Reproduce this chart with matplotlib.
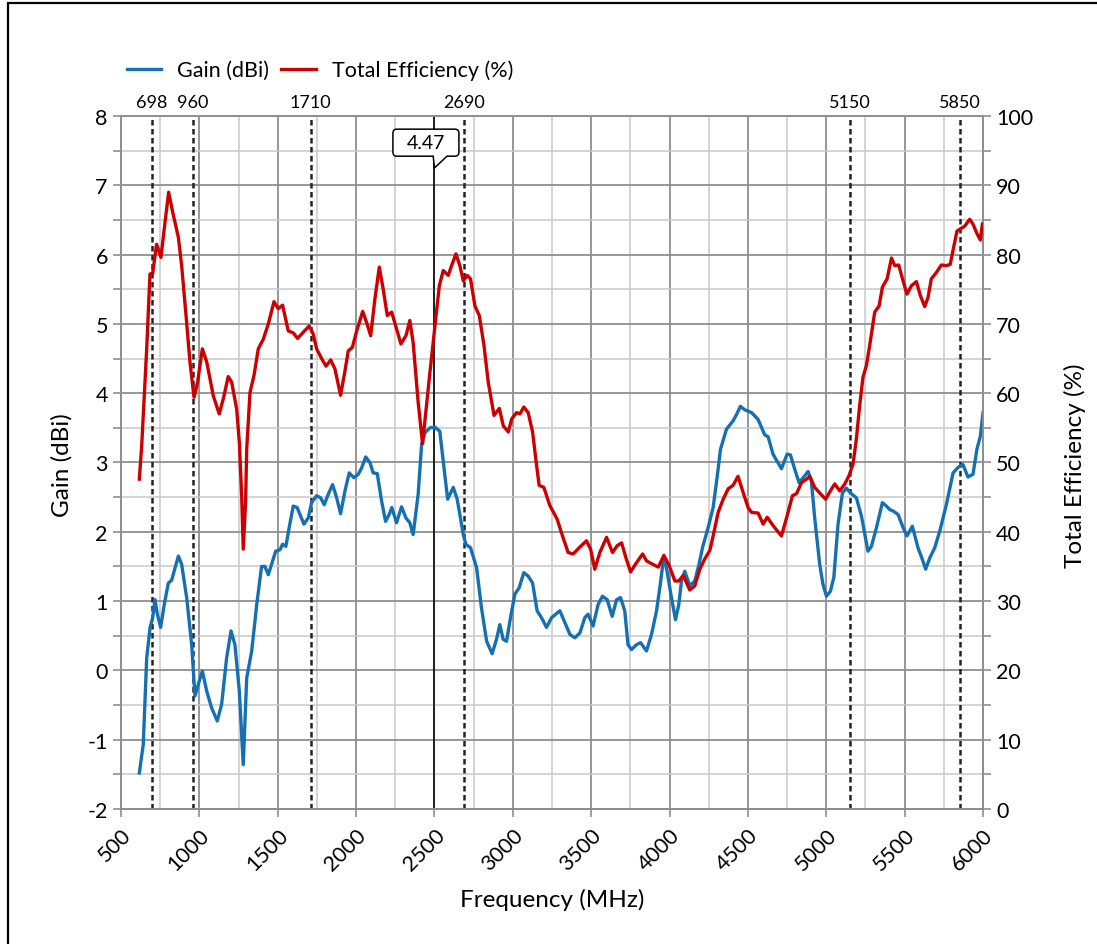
import matplotlib
matplotlib.use("Agg")
import matplotlib.pyplot as plt
from matplotlib.path import Path
from matplotlib.patches import PathPatch, Rectangle
from matplotlib.ticker import MultipleLocator

plt.rcParams['font.family'] = ['Lato', 'DejaVu Sans']
plt.rcParams['axes.unicode_minus'] = False

# gain curve (MHz, dBi)
gain_freq = [617, 642, 664, 685, 702, 717, 732, 753, 776, 802, 823, 866, 887, 919, 951, 972, 993, 1019,
             1047, 1078, 1114, 1142, 1174, 1202, 1227, 1255, 1280, 1302, 1334, 1366, 1397, 1418, 1440,
             1461, 1487, 1514, 1531, 1552, 1573, 1599, 1624, 1667, 1695, 1716, 1748, 1774, 1797, 1822,
             1850, 1876, 1901, 1929, 1956, 1986, 2014, 2035, 2061, 2088, 2109, 2135, 2163, 2188, 2211,
             2228, 2258, 2290, 2318, 2343, 2364, 2396, 2418, 2439, 2471, 2503, 2534, 2556, 2584, 2620,
             2645, 2684, 2700, 2730, 2769, 2800, 2833, 2868, 2896, 2917, 2938, 2960, 2985, 3013, 3040,
             3070, 3098, 3126, 3155, 3183, 3215, 3247, 3300, 3332, 3364, 3396, 3428, 3459, 3480, 3512,
             3544, 3572, 3602, 3634, 3662, 3687, 3714, 3735, 3757, 3789, 3815, 3853, 3885, 3917, 3942,
             3963, 3984, 4012, 4038, 4059, 4076, 4097, 4129, 4161, 4188, 4210, 4246, 4278, 4303, 4325,
             4363, 4405, 4427, 4452, 4480, 4523, 4565, 4607, 4629, 4660, 4714, 4750, 4771, 4799, 4826,
             4856, 4884, 4905, 4926, 4958, 4979, 5001, 5026, 5048, 5075, 5103, 5128, 5154, 5192, 5224,
             5266, 5288, 5320, 5358, 5384, 5405, 5426, 5458, 5490, 5515, 5549, 5585, 5613, 5634, 5660,
             5692, 5724, 5766, 5809, 5841, 5872, 5904, 5936, 5961, 5983, 6000]
gain_dbi = [-1.48, -1.07, 0.18, 0.61, 0.76, 1.02, 0.81, 0.62, 0.95, 1.26, 1.30, 1.65, 1.53, 1.05, 0.37,
            -0.37, -0.20, -0.01, -0.30, -0.54, -0.73, -0.49, 0.18, 0.57, 0.37, -0.30, -1.36, -0.11, 0.28,
            0.95, 1.50, 1.50, 1.38, 1.53, 1.72, 1.74, 1.82, 1.79, 2.06, 2.37, 2.35, 2.11, 2.20, 2.42,
            2.52, 2.49, 2.39, 2.54, 2.68, 2.49, 2.26, 2.59, 2.85, 2.78, 2.83, 2.92, 3.08, 3.00, 2.85,
            2.84, 2.44, 2.15, 2.25, 2.35, 2.13, 2.36, 2.20, 2.13, 1.96, 2.54, 3.26, 3.43, 3.50, 3.51,
            3.45, 3.02, 2.47, 2.64, 2.47, 1.96, 1.82, 1.77, 1.48, 0.90, 0.42, 0.24, 0.45, 0.66, 0.45,
            0.42, 0.76, 1.10, 1.19, 1.41, 1.36, 1.26, 0.86, 0.76, 0.62, 0.76, 0.86, 0.69, 0.52, 0.47,
            0.54, 0.76, 0.81, 0.64, 0.95, 1.07, 1.02, 0.78, 1.02, 1.05, 0.86, 0.37, 0.30, 0.37, 0.40,
            0.28, 0.52, 0.86, 1.26, 1.65, 1.43, 1.05, 0.73, 0.95, 1.29, 1.43, 1.22, 1.29, 1.53, 1.77,
            2.06, 2.35, 2.78, 3.19, 3.48, 3.60, 3.69, 3.81, 3.76, 3.72, 3.62, 3.40, 3.37, 3.12, 2.91,
            3.12, 3.11, 2.90, 2.71, 2.79, 2.87, 2.73, 2.20, 1.53, 1.24, 1.07, 1.14, 1.34, 2.11, 2.56,
            2.63, 2.56, 2.49, 2.23, 1.72, 1.79, 2.06, 2.42, 2.37, 2.32, 2.30, 2.25, 2.06, 1.94, 2.08,
            1.77, 1.60, 1.46, 1.62, 1.77, 2.01, 2.39, 2.85, 2.93, 2.97, 2.79, 2.83, 3.19, 3.38, 3.72]

# total efficiency curve (MHz, %)
eff_freq = [617, 632, 664, 685, 702, 727, 755, 781, 804, 830, 866, 887, 915, 940, 966, 989, 1019, 1047,
            1089, 1127, 1157, 1184, 1206, 1238, 1255, 1270, 1280, 1295, 1302, 1323, 1348, 1376, 1408,
            1440, 1476, 1503, 1531, 1567, 1599, 1627, 1663, 1701, 1727, 1748, 1780, 1808, 1838, 1865,
            1901, 1929, 1950, 1976, 2004, 2042, 2067, 2093, 2120, 2148, 2173, 2199, 2227, 2258, 2286,
            2318, 2343, 2364, 2396, 2424, 2471, 2503, 2531, 2556, 2588, 2609, 2637, 2662, 2684, 2709,
            2730, 2758, 2786, 2816, 2843, 2880, 2914, 2939, 2971, 2993, 3024, 3045, 3070, 3098, 3126,
            3152, 3168, 3198, 3236, 3283, 3317, 3353, 3385, 3428, 3470, 3496, 3523, 3555, 3598, 3636,
            3666, 3694, 3721, 3751, 3785, 3828, 3853, 3885, 3928, 3964, 3998, 4034, 4059, 4087, 4129,
            4161, 4193, 4225, 4257, 4278, 4310, 4342, 4374, 4405, 4437, 4469, 4501, 4523, 4565, 4597,
            4623, 4660, 4714, 4750, 4784, 4810, 4842, 4874, 4895, 4926, 4958, 4996, 5026, 5054, 5086,
            5118, 5145, 5171, 5192, 5213, 5234, 5256, 5277, 5309, 5337, 5358, 5388, 5416, 5437, 5462,
            5490, 5515, 5543, 5575, 5600, 5628, 5649, 5670, 5702, 5734, 5766, 5791, 5812, 5834, 5855,
            5883, 5915, 5936, 5962, 5983, 5996]
eff_pct = [47.6, 52.4, 66.4, 77.2, 77.3, 81.5, 79.6, 84.7, 89.0, 86.1, 82.5, 78.4, 71.2, 64.5, 59.4,
           61.6, 66.4, 64.5, 59.6, 57.0, 59.6, 62.4, 61.6, 57.7, 52.9, 45.2, 37.5, 44.3, 51.9, 60.1,
           62.5, 66.4, 67.8, 70.0, 73.2, 72.2, 72.7, 69.0, 68.7, 67.9, 68.8, 69.7, 68.5, 66.4, 65.0,
           63.9, 64.8, 63.5, 59.7, 63.2, 66.1, 66.6, 69.0, 71.8, 70.2, 68.3, 73.6, 78.2, 75.0, 71.2,
           71.7, 69.3, 67.1, 68.3, 70.5, 67.3, 58.7, 52.7, 63.0, 69.7, 75.5, 77.7, 77.0, 78.4, 80.1,
           78.4, 76.2, 77.0, 76.5, 72.6, 71.2, 66.9, 61.6, 56.8, 57.8, 55.3, 54.4, 56.3, 57.2, 57.0,
           58.0, 57.2, 54.4, 49.5, 46.7, 46.4, 43.8, 41.8, 39.4, 37.0, 36.8, 37.8, 38.7, 37.5, 34.6,
           37.0, 39.2, 37.0, 38.0, 38.4, 36.3, 34.2, 35.4, 36.8, 35.8, 35.4, 34.9, 36.6, 35.1, 32.9,
           32.9, 33.7, 31.6, 32.2, 34.6, 36.1, 37.3, 39.4, 42.8, 44.7, 46.2, 46.7, 48.0, 45.7, 43.5,
           42.8, 42.7, 41.1, 42.1, 40.9, 39.4, 42.3, 45.2, 45.5, 47.1, 47.6, 48.0, 46.4, 45.6, 44.7,
           45.9, 46.9, 45.9, 46.9, 48.1, 49.8, 53.4, 58.2, 62.3, 64.0, 66.9, 71.7, 72.6, 75.3, 76.5,
           79.5, 78.4, 78.5, 76.2, 74.3, 75.5, 76.1, 74.1, 72.5, 73.8, 76.5, 77.4, 78.5, 78.4, 78.6,
           81.0, 83.4, 83.7, 84.1, 85.1, 84.4, 83.0, 82.1, 84.4]

band_edges = [698, 960, 1710, 2690, 5150, 5850]
marker_freq = 2500
marker_text = '4.47'

blue = '#1570b2'
red = '#cc0000'
grid_major = '#8f8f8f'
grid_minor = '#c9c9c9'

fig = plt.figure(figsize=(10.97, 9.45), dpi=100)
ax = fig.add_axes([0.1103, 0.1429, 0.7858, 0.7333])
ax2 = ax.twinx()

ax.set_xlim(500, 6000)
ax.set_ylim(-2, 8)
ax2.set_ylim(0, 100)

ax.xaxis.set_major_locator(MultipleLocator(500))
ax.xaxis.set_minor_locator(MultipleLocator(250))
ax.yaxis.set_major_locator(MultipleLocator(1))
ax.yaxis.set_minor_locator(MultipleLocator(0.5))
ax2.yaxis.set_major_locator(MultipleLocator(10))
ax2.yaxis.set_minor_locator(MultipleLocator(5))

ax.grid(which='major', color=grid_major, lw=1.3)
ax.grid(which='minor', color=grid_minor, lw=1.1)
ax.set_axisbelow(True)

for a in (ax, ax2):
    for s in a.spines.values():
        s.set_color(grid_major)
        s.set_linewidth(1.3)

ax.tick_params(axis='both', which='both', color=grid_major, width=1.2, length=6, labelsize=15.5)
ax.tick_params(axis='x', which='minor', length=0)
ax.tick_params(axis='x', pad=5)
ax2.tick_params(axis='y', which='both', color=grid_major, width=1.2, length=6, labelsize=15.5)
for lbl in ax.get_xticklabels():
    lbl.set_rotation(45)
    lbl.set_ha('right')
    lbl.set_va('top')
    lbl.set_rotation_mode('anchor')

# band edges and marker
for f in band_edges:
    ax.axvline(f, color='#222222', lw=1.8, dashes=(2.2, 1.4), zorder=2.5)
    ax.text(f, 8.08, str(f), ha='center', va='bottom', fontsize=13)
ax.axvline(marker_freq, color='black', lw=1.1, zorder=2.5)

# callout box with tail pointing at the marker line
bx0, bx1, by0, by1 = 2235, 2656, 7.42, 7.81
rx, ry = 25, 0.06
verts = [(bx0 + rx, by0), (marker_freq - 8, by0), (marker_freq, 7.25), (2580, by0),
         (bx1 - rx, by0), (bx1, by0), (bx1, by0 + ry), (bx1, by1 - ry), (bx1, by1), (bx1 - rx, by1),
         (bx0 + rx, by1), (bx0, by1), (bx0, by1 - ry), (bx0, by0 + ry), (bx0, by0), (bx0 + rx, by0)]
codes = [Path.MOVETO, Path.LINETO, Path.LINETO, Path.LINETO, Path.LINETO, Path.CURVE3, Path.CURVE3,
         Path.LINETO, Path.CURVE3, Path.CURVE3, Path.LINETO, Path.CURVE3, Path.CURVE3, Path.LINETO,
         Path.CURVE3, Path.CURVE3]
ax.add_patch(PathPatch(Path(verts, codes), fc='white', ec='black', lw=1.1, zorder=4))
ax.text((bx0 + bx1) / 2, (by0 + by1) / 2, marker_text, ha='center', va='center', fontsize=14, zorder=5)

l1, = ax.plot(gain_freq, gain_dbi, color=blue, lw=2.4, solid_joinstyle='round', zorder=3)
l2, = ax2.plot(eff_freq, eff_pct, color=red, lw=2.4, solid_joinstyle='round', zorder=3)

fig.legend([l1, l2], ['Gain (dBi)', 'Total Efficiency (%)'], loc='center left',
           bbox_to_anchor=(0.098, 0.925), ncol=2, frameon=False, fontsize=15.5,
           handlelength=1.6, handletextpad=0.75, columnspacing=0.55)

fig.text(62 / 1097, 1 - 465 / 945, 'Gain (dBi)', rotation=90, ha='center', va='center', fontsize=17.5)
fig.text(1075 / 1097, 1 - 466 / 945, 'Total Efficiency (%)', rotation=90, ha='center', va='center',
         fontsize=17.5)
fig.text(552 / 1097, 1 - 900 / 945, 'Frequency (MHz)', ha='center', va='center', fontsize=17.5)

# outer frame
fig.patches.append(Rectangle((8 / 1097, -0.05), 1.2, 1.05 - 4 / 945, fill=False, ec='black', lw=1.6,
                             transform=fig.transFigure, figure=fig))

fig.savefig('out.png', dpi=100)
